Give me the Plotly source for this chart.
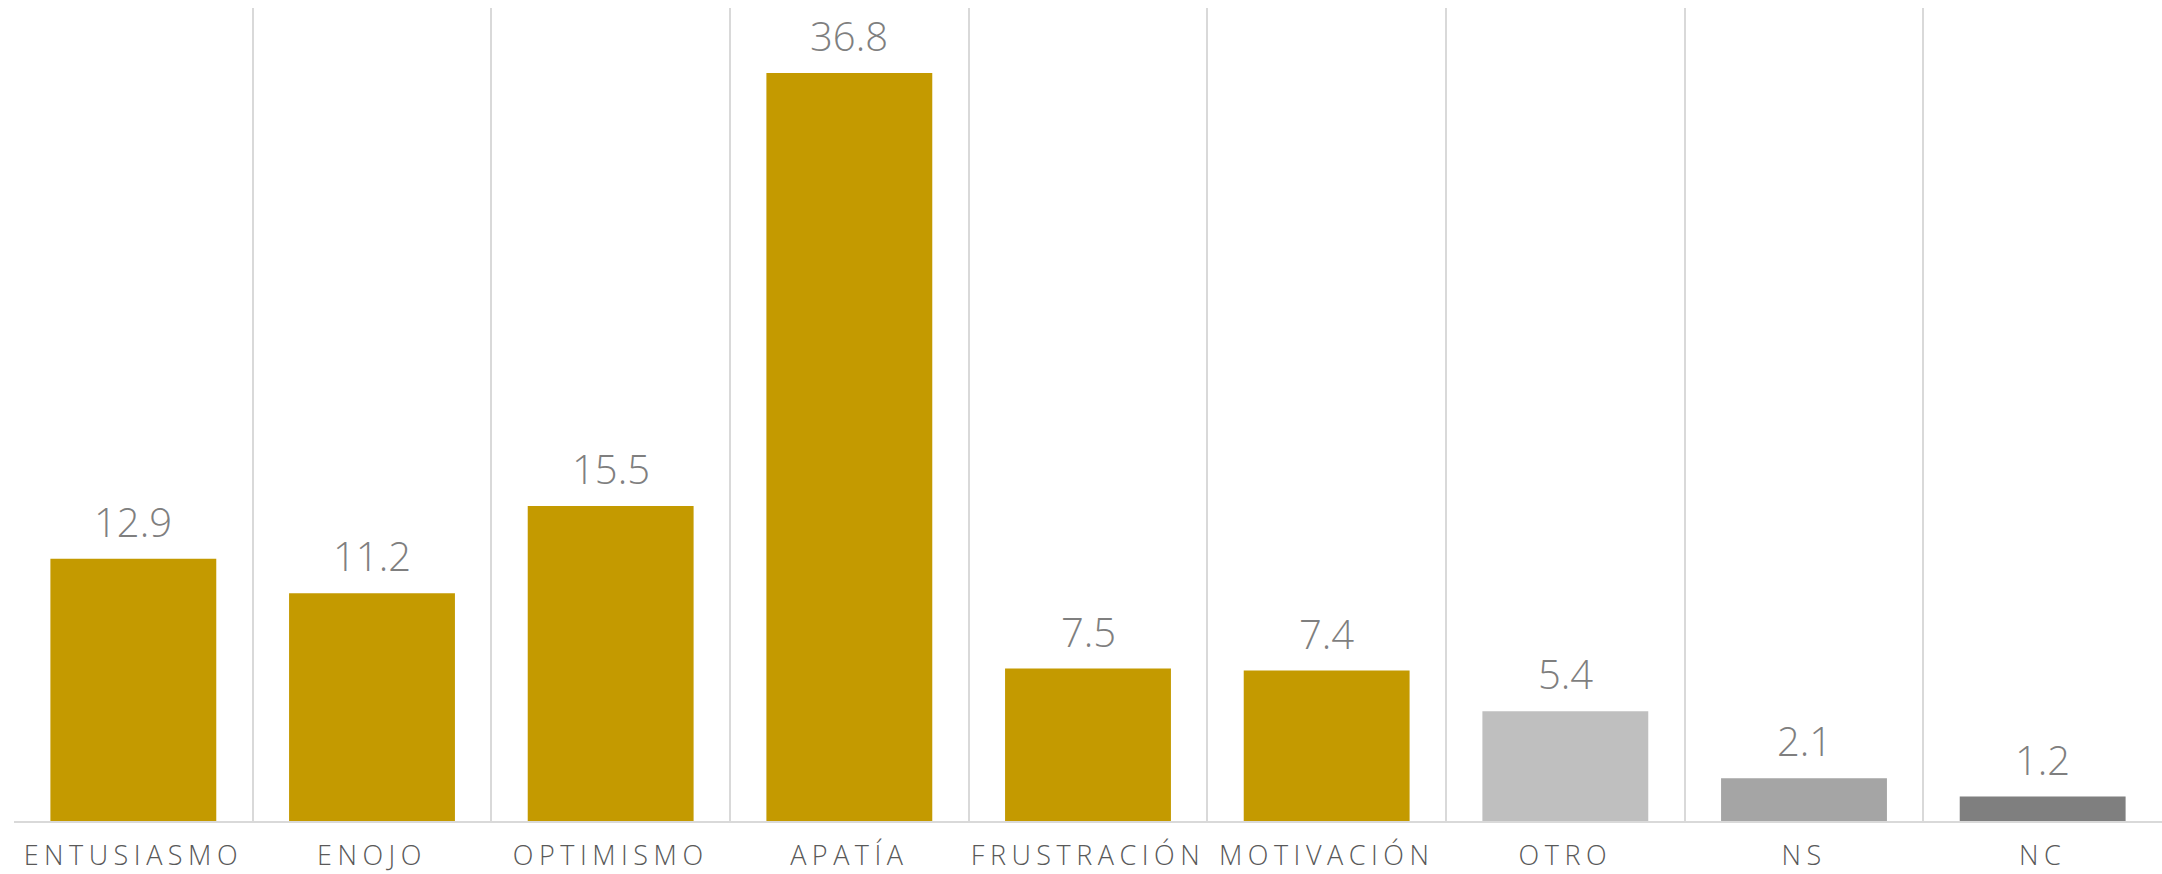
import plotly.graph_objects as go

categories = ["ENTUSIASMO", "ENOJO", "OPTIMISMO", "APATÍA", "FRUSTRACIÓN",
              "MOTIVACIÓN", "OTRO", "NS", "NC"]
values = [12.9, 11.2, 15.5, 36.8, 7.5, 7.4, 5.4, 2.1, 1.2]
bar_colors = ["#C49A00"] * 6 + ["#BFBFBF", "#A5A5A5", "#7F7F7F"]

tick_text = [f'<span style="letter-spacing:5.5px">{c}</span>' for c in categories]

fig = go.Figure(go.Bar(
    x=categories, y=values,
    marker=dict(color=bar_colors, line=dict(width=0)),
    width=0.695,
    hoverinfo="skip",
))

for c, v in zip(categories, values):
    fig.add_annotation(x=c, y=v, text=f"{v:.1f}", showarrow=False,
                       yanchor="bottom", yshift=8,
                       font=dict(family="Open Sans", size=40, color="#7F7F7F", weight=300))

fig.update_layout(
    width=2162, height=874,
    margin=dict(l=14, r=0, t=8, b=53, autoexpand=False),
    paper_bgcolor="white", plot_bgcolor="white",
    showlegend=False,
    xaxis=dict(
        type="category", tickson="boundaries",
        showgrid=True, gridcolor="#D9D9D9", gridwidth=2,
        showline=True, linecolor="#D9D9D9", linewidth=2,
        ticks="", ticklabelstandoff=10,
        tickmode="array", tickvals=categories, ticktext=tick_text,
        tickangle=0,
        tickfont=dict(family="Open Sans", size=27, color="#595959", weight=300),
        automargin=False,
    ),
    yaxis=dict(range=[0, 40], showgrid=False, zeroline=False,
               showticklabels=False, showline=False, automargin=False),
)

fig.write_html("out.html", config={"displayModeBar": False},
               post_script="document.body.style.margin='0';document.body.style.overflow='hidden';")
